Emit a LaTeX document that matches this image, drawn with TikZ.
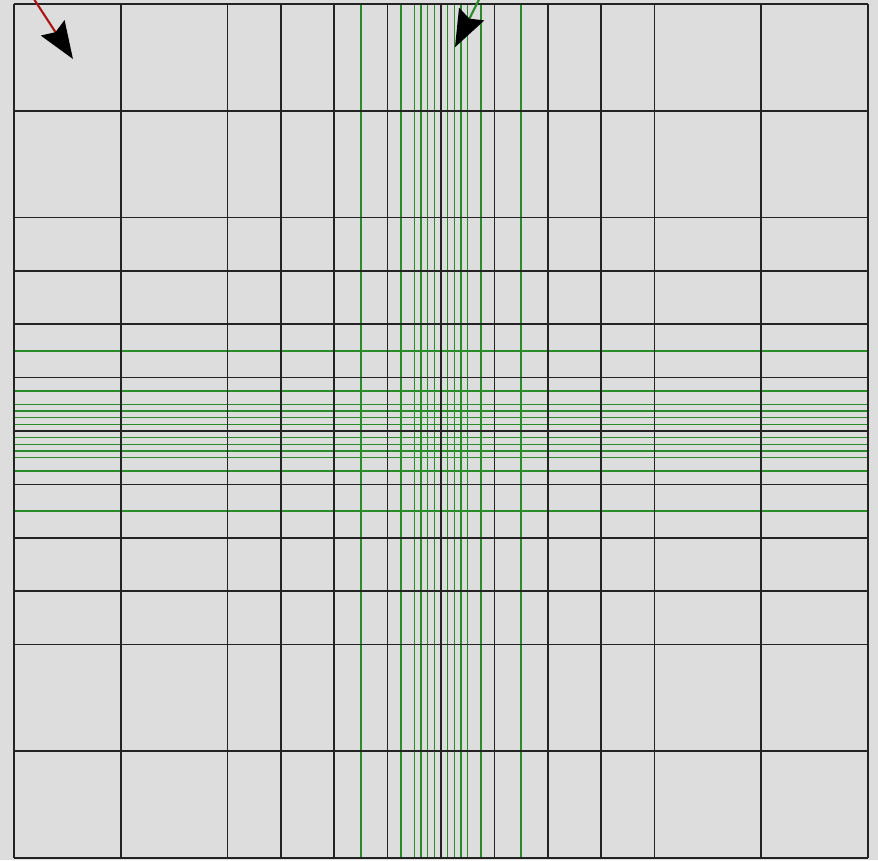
\documentclass[tikz,border=0pt]{standalone}
\usepackage{tikz}
\usepackage{xcolor}
\usetikzlibrary{arrows.meta}
\definecolor{meshgray}{RGB}{221,221,221}
\definecolor{meshline}{RGB}{35,35,35}
\definecolor{finegreen}{RGB}{40,140,40}
\definecolor{vecred}{RGB}{170,20,20}

\begin{document}
\begin{tikzpicture}[x=1.0675cm,y=1.0675cm]
        \fill[meshgray] (-0.262,-0.037) rectangle (16.187,16.075);
        \useasboundingbox (-0.262,-0.037) rectangle (16.187,16.075);
        % refined lines round the middle
        \foreach \d in {-1.5,-0.75,-0.5,-0.375,-0.25,-0.125,0.125,0.25,0.375,0.5,0.75,1.5}{
            \draw[finegreen,line width=0.9pt] (8+\d,0) -- (8+\d,16);
            \draw[finegreen,line width=0.9pt] (0,8+\d) -- (16,8+\d);
        }
        % coarse mesh
        \foreach \c in {0,2,4,5,6,7,8,9,10,11,12,14,16}{
            \draw[meshline,line width=0.9pt] (\c,0) -- (\c,16);
            \draw[meshline,line width=0.9pt] (0,\c) -- (16,\c);
        }
        % vectors
        \coordinate (r0) at (0.356,16.12);
        \coordinate (r1) at (1.105,14.97);
        \coordinate (g0) at (8.73,16.12);
        \coordinate (g1) at (8.262,15.19);
        \draw[vecred,line width=1.2pt,-{Stealth[length=0.74cm,width=0.56cm,inset=0.1cm,color=black]}] (r0) -- (r1);
        \draw[finegreen,line width=1.2pt,-{Stealth[length=0.74cm,width=0.56cm,inset=0.1cm,color=black]}] (g0) -- (g1);
    \end{tikzpicture}
\end{document}
